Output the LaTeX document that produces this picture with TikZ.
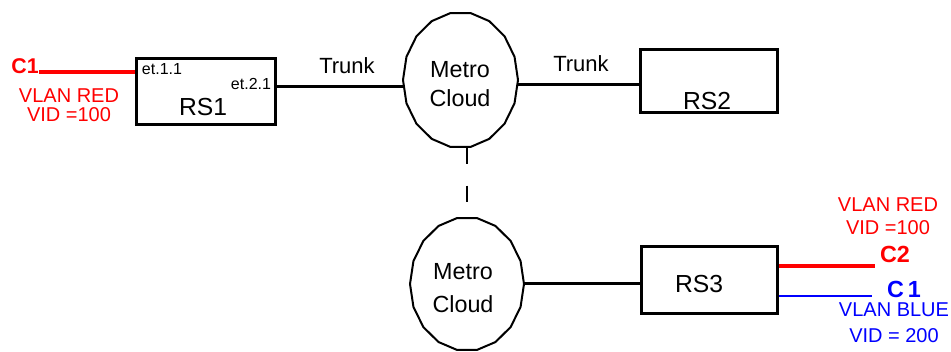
\documentclass[tikz,border=0pt]{standalone}
\usepackage{fontspec}
\setmainfont{Liberation Sans}
\usetikzlibrary{shapes.geometric}

\begin{document}
\begin{tikzpicture}[x=0.75pt, y=-0.75pt,
    box/.style={draw, line width=2.25pt, inner sep=0pt},
    link/.style={line width=2.25pt},
    cloud/.style={ellipse, inner sep=0pt, minimum width=86.25pt, minimum height=102pt},
    rim/.style={line width=1.5pt, line join=round},
    txt/.style={inner sep=0pt},
    big/.style={txt, font=\fontsize{18.5pt}{22pt}\selectfont},
    metro/.style={txt, align=center, font=\fontsize{17.5pt}{#1}\selectfont},
    port/.style={txt, font=\fontsize{12pt}{14pt}\selectfont},
    vlan/.style={txt, align=center, font=\fontsize{15pt}{#1}\selectfont},
    cust/.style={txt, font=\bfseries\fontsize{#1}{20pt}\selectfont}]
  \useasboundingbox (0,0) rectangle (951,352);

  % switches
  \node[box, minimum width=104pt, minimum height=49.5pt] (rsA) at (206,91.5) {};
  \node[box, minimum width=102.75pt, minimum height=47.25pt] (rsB) at (709,81) {};
  \node[box, minimum width=102pt, minimum height=50pt] (rsC) at (709.5,280) {};
  \node[big] (rsAname) at (203,107) {RS1};
  \node[big] (rsBname) at (707,101.5) {RS2};
  \node[big] (rsCname) at (699,284) {RS3};
  \node[port] (etA) at (162,69) {et.1.1};
  \node[port] (etB) at (251,84) {et.2.1};

  % metro clouds
  \node[cloud] (cloudA) at (460.5,80) {};
  \node[cloud] (cloudB) at (467,284) {};
  \draw[rim, shift={(cloudA.center)}]
    plot[domain=0:360, samples=19, variable=\a] ({57.5*cos(\a)}, {68*sin(\a)}) -- cycle;
  \draw[rim, shift={(cloudB.center)}]
    plot[domain=0:360, samples=19, variable=\a] ({57*cos(\a)}, {67*sin(\a)}) -- cycle;
  \node[metro=21.75pt] (cloudAtxt) at (460,84.5) {Metro\\Cloud};
  \node[metro=24.75pt] (cloudBtxt) at (463,288) {Metro\\Cloud};

  % trunks
  \draw[link] ([yshift=3.4pt]rsA.east) -- ([yshift=3.4pt]rsA.east -| cloudA.west);
  \draw[link] ([yshift=-3pt]rsB.west -| cloudA.east) -- ([yshift=-3pt]rsB.west);
  \draw[link] (cloudB.east) -- (cloudB.east -| rsC.west);
  \draw[line width=1.5pt, dash pattern=on 12 off 16] (cloudA.south -| cloudB.north) -- (cloudB.north);
  \node[txt, font=\fontsize{16.5pt}{20pt}\selectfont] (trunkA) at (347,66) {Trunk};
  \node[txt, font=\fontsize{16.5pt}{20pt}\selectfont] (trunkB) at (581,64) {Trunk};

  % customers
  \coordinate (cA) at (39,72);
  \coordinate (cB) at (875,266);
  \coordinate (cC) at (872,296);
  \draw[line width=2.6pt, red] (cA) -- (cA -| rsA.west);
  \draw[line width=2.6pt, red] (cB -| rsC.east) -- (cB);
  \draw[line width=2pt, blue] (cC -| rsC.east) -- (cC);
  \node[cust=16pt, red] (custA) at (25,66) {C1};
  \node[cust=17.5pt, red] (custB) at (895,254) {C2};
  \node[cust=17.5pt, blue] (custC) at (904,289) {C\,1};
  \node[vlan=14.25pt, red] (vlanA) at (69,105) {VLAN RED\\VID =100};
  \node[vlan=17.25pt, red] (vlanB) at (888,216.5) {VLAN RED\\VID =100};
  \node[vlan=19.5pt, blue] (vlanC) at (894,323) {VLAN BLUE\\VID = 200};
\end{tikzpicture}
\end{document}
